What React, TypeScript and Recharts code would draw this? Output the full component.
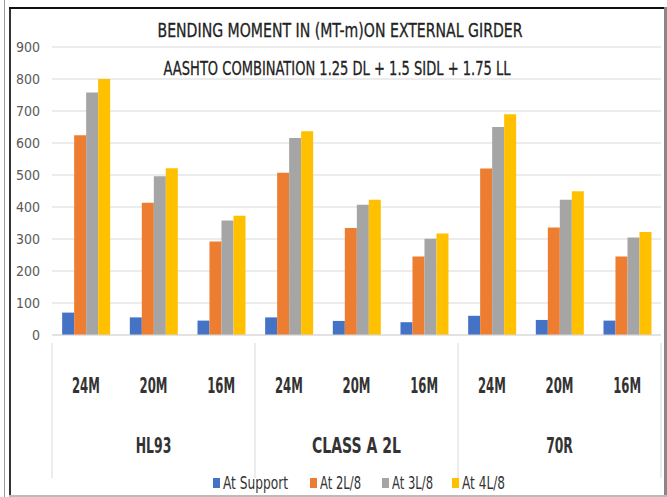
import React from 'react';
import { BarChart, Bar, XAxis, YAxis, CartesianGrid, Legend, Customized } from 'recharts';

const spans = ['24M', '20M', '16M', '24M', '20M', '16M', '24M', '20M', '16M'];
const groups = ['HL93', 'HL93', 'HL93', 'CLASS A 2L', 'CLASS A 2L', 'CLASS A 2L', '70R', '70R', '70R'];
const atSupport = [70, 55, 45, 55, 44, 40, 60, 47, 45];
const at2L8 = [624, 413, 292, 507, 334, 245, 520, 336, 245];
const at3L8 = [758, 496, 358, 616, 407, 301, 650, 423, 305];
const at4L8 = [800, 521, 373, 637, 423, 317, 690, 449, 322];
const yTicks = [0, 100, 200, 300, 400, 500, 600, 700, 800, 900];
const seriesNames = ['At Support', 'At 2L/8', 'At 3L/8', 'At 4L/8'];
const seriesColors = ['#4472C4', '#ED7D31', '#A5A5A5', '#FFC000'];
const titleLine1 = 'BENDING MOMENT IN (MT-m)ON EXTERNAL GIRDER';
const titleLine2 = 'AASHTO COMBINATION 1.25 DL + 1.5 SIDL + 1.75 LL';

const data = spans.map((s, i) => ({
  key: i,
  span: s,
  group: groups[i],
  [seriesNames[0]]: atSupport[i],
  [seriesNames[1]]: at2L8[i],
  [seriesNames[2]]: at3L8[i],
  [seriesNames[3]]: at4L8[i],
}));

const FONT = '"DejaVu Sans Condensed", "Liberation Sans Narrow", sans-serif';
const TXT = '#333333';
const GRID = '#D9D9D9';

const PLOT_W = 609;
const BAND = PLOT_W / 9;

const XTick = (props: any) => {
  const { x, y, payload, index } = props;
  const i = payload && typeof payload.value === 'number' ? payload.value : index;
  const d = data[i];
  const half = BAND / 2;
  return (
    <g>
      <text x={x} y={y + 50} textAnchor="middle" fontFamily={FONT} fontSize={21} fontWeight="bold" fill={TXT} textLength={d.span.length * 9.3} lengthAdjust="spacingAndGlyphs">
        {d.span}
      </text>
      {i % 3 === 1 && (
        <text x={x} y={y + 110} textAnchor="middle" fontFamily={FONT} fontSize={21} fontWeight="bold" fill={TXT} textLength={d.group.length * 8.9} lengthAdjust="spacingAndGlyphs">
          {d.group}
        </text>
      )}
      {i % 3 === 0 && <line x1={x - half} x2={x - half} y1={y} y2={y + 135} stroke={GRID} />}
      {i === 8 && <line x1={x + half} x2={x + half} y1={y} y2={y + 135} stroke={GRID} />}
    </g>
  );
};

const Titles = () => (
  <g>
    <text x={340} y={37} textAnchor="middle" fontFamily={FONT} fontSize={20} fill="#222" stroke="#222" strokeWidth={0.3} textLength={365} lengthAdjust="spacingAndGlyphs">
      {titleLine1}
    </text>
    <text x={337} y={75} textAnchor="middle" fontFamily={FONT} fontSize={20} fill="#222" stroke="#222" strokeWidth={0.3} textLength={347} lengthAdjust="spacingAndGlyphs">
      {titleLine2}
    </text>
  </g>
);

const legendWidths = [65, 41, 41, 43];
const legendStarts = [0, 97, 169, 239];

const LegendContent = () => (
  <div style={{ position: 'absolute', left: 213, top: 0, width: 320, height: 28 }}>
    <svg width={320} height={28} style={{ display: 'block' }}>
      {seriesNames.map((n, i) => {
        const sx = legendStarts[i];
        return (
          <g key={n}>
            <rect x={sx} y={7} width={7} height={10} fill={seriesColors[i]} />
            <text x={sx + 10} y={18} fontFamily={FONT} fontSize={17} fill={TXT} textLength={legendWidths[i]} lengthAdjust="spacingAndGlyphs">
              {n}
            </text>
          </g>
        );
      })}
    </svg>
  </div>
);

const line = (style: React.CSSProperties) => <div style={{ position: 'absolute', ...style }} />;

export default function App() {
  return (
    <div style={{ position: 'absolute', left: 0, top: 0, width: 667, height: 497, background: '#fff', overflow: 'hidden' }}>
      {line({ left: 4, top: 0, width: 1, height: 497, background: '#999' })}
      {line({ left: 9, top: 7, width: 2, height: 490, background: '#333' })}
      {line({ left: 9, top: 7, width: 656, height: 2, background: '#111' })}
      {line({ left: 664, top: 7, width: 3, height: 490, background: '#888' })}
      {line({ left: 9, top: 495, width: 658, height: 2, background: '#bbb' })}
      <div style={{ position: 'absolute', left: 0, top: 0 }}>
        <BarChart
          width={667}
          height={497}
          data={data}
          margin={{ top: 47, right: 6, left: 8, bottom: 2 }}
          barCategoryGap="15%"
          barGap={0}
        >
          <CartesianGrid vertical={false} stroke={GRID} />
          <XAxis
            dataKey="key"
            type="category"
            tick={<XTick />}
            tickLine={false}
            axisLine={{ stroke: GRID }}
            height={136}
            interval={0}
          />
          <YAxis
            domain={[0, 900]}
            ticks={yTicks}
            width={44}
            axisLine={false}
            tickLine={false}
            tickMargin={6}
            tick={{ fontFamily: FONT, fontSize: 14, fill: '#595959' }}
          />
          <Legend
            verticalAlign="bottom"
            height={24}
            wrapperStyle={{ left: 0, width: 667 }}
            content={<LegendContent />}
          />
          {seriesNames.map((n, i) => (
            <Bar key={n} dataKey={n} fill={seriesColors[i]} isAnimationActive={false} />
          ))}
          <Customized component={Titles} />
        </BarChart>
      </div>
    </div>
  );
}
